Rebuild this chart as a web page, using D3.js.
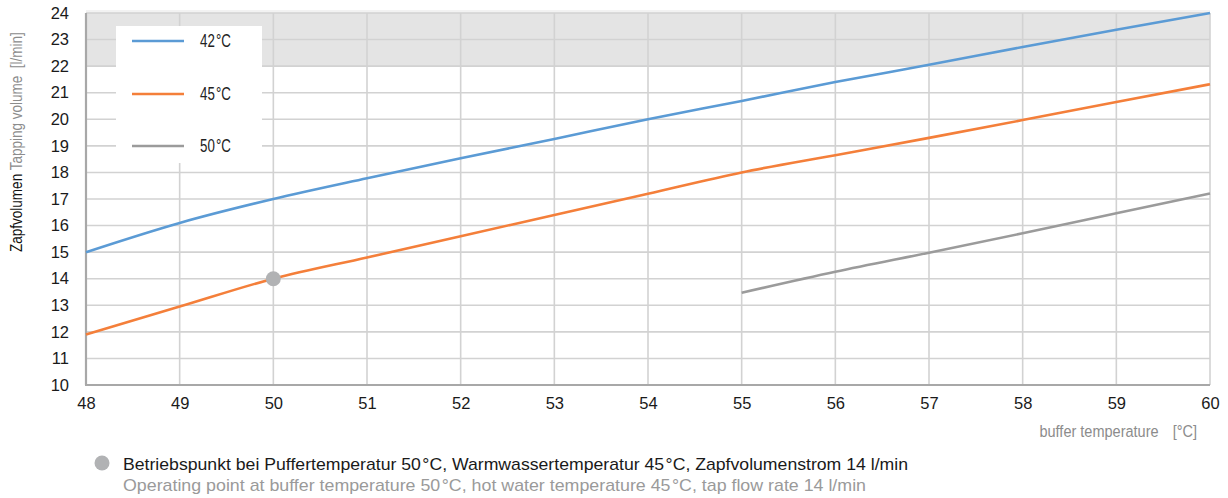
<!DOCTYPE html>
<html>
<head>
<meta charset="utf-8">
<script src="https://cdn.jsdelivr.net/npm/d3@7"></script>
<style>
  html, body { margin: 0; padding: 0; background: #fff; }
  svg { display: block; }
  text { font-family: "Liberation Sans", Arial, Helvetica, sans-serif; }
</style>
</head>
<body>
<svg id="chart" width="1228" height="498"></svg>
<script>
// Buffer temperature in °C (x axis)
const temps = [48, 49, 50, 51, 52, 53, 54, 55, 56, 57, 58, 59, 60];
// Tapping volume in l/min for each hot water temperature
const vol42 = [15.0, 16.1, 17.0, 17.78, 18.53, 19.26, 20.0, 20.69, 21.4, 22.05, 22.72, 23.37, 24.0];
const vol45 = [11.9, 12.95, 14.0, 14.8, 15.6, 16.4, 17.2, 18.0, 18.65, 19.3, 19.97, 20.65, 21.32];
const temps50 = [55, 56, 57, 58, 59, 60];
const vol50 = [13.47, 14.26, 14.98, 15.71, 16.46, 17.21];
const seriesNames = ["42\u200a°C", "45\u200a°C", "50\u200a°C"];
const seriesColors = ["#5b9bd5", "#f47f3a", "#9b9b9b"];
const xTicks = [48, 49, 50, 51, 52, 53, 54, 55, 56, 57, 58, 59, 60];
const yTicks = [10, 11, 12, 13, 14, 15, 16, 17, 18, 19, 20, 21, 22, 23, 24];
const bandRange = [22, 24];
const operatingPoint = [50, 14];

const svg = d3.select("#chart");
const margin = { left: 86, right: 18, top: 13, bottom: 113 };
const W = 1228, H = 498;

const x = d3.scaleLinear().domain([48, 60]).range([margin.left, W - margin.right]);
const y = d3.scaleLinear().domain([10, 24]).range([H - margin.bottom, margin.top]);

// light strip above plot
svg.append("rect")
  .attr("x", x(48)).attr("y", y(24) - 3)
  .attr("width", x(60) - x(48)).attr("height", 3)
  .attr("fill", "#f2f2f2");

// shaded band at the top (22–24 l/min)
svg.append("rect")
  .attr("x", x(48)).attr("y", y(bandRange[1]))
  .attr("width", x(60) - x(48))
  .attr("height", y(bandRange[0]) - y(bandRange[1]))
  .attr("fill", "#e4e4e4");

// grid
const grid = svg.append("g").attr("stroke", "#d2d2d2").attr("stroke-width", 1.6);
grid.selectAll("line.h").data(yTicks).join("line")
  .attr("x1", x(48)).attr("x2", x(60))
  .attr("y1", d => y(d)).attr("y2", d => y(d));
grid.selectAll("line.v").data(xTicks).join("line")
  .attr("x1", d => x(d)).attr("x2", d => x(d))
  .attr("y1", y(24)).attr("y2", y(10));

// axis lines (left and bottom)
svg.append("line").attr("x1", x(48)).attr("x2", x(48)).attr("y1", y(24)).attr("y2", y(10))
  .attr("stroke", "#a8a8a8").attr("stroke-width", 2.2);
svg.append("line").attr("x1", x(48) - 1).attr("x2", x(60)).attr("y1", y(10)).attr("y2", y(10))
  .attr("stroke", "#a8a8a8").attr("stroke-width", 2.2);

// tick labels through d3 axes
const yAxis = svg.append("g").attr("transform", `translate(${x(48)},0)`)
  .call(d3.axisLeft(y).tickValues(yTicks).tickSize(0).tickPadding(17).tickFormat(d3.format("d")));
yAxis.select(".domain").remove();
yAxis.selectAll("text").attr("font-size", 16.5).attr("fill", "#1a1a1a")
  .style("font-family", "'Liberation Sans', Arial, sans-serif");

const xAxis = svg.append("g").attr("transform", `translate(0,${y(10)})`)
  .call(d3.axisBottom(x).tickValues(xTicks).tickSize(0).tickPadding(12).tickFormat(d3.format("d")));
xAxis.select(".domain").remove();
xAxis.selectAll("text").attr("font-size", 16.5).attr("fill", "#1a1a1a")
  .style("font-family", "'Liberation Sans', Arial, sans-serif");

// legend box
const lg = svg.append("g");
lg.append("rect").attr("x", 116).attr("y", 26).attr("width", 146).attr("height", 137).attr("fill", "#fff");
const legendRows = [41, 94, 146];
seriesNames.forEach((name, i) => {
  lg.append("line").attr("x1", 132).attr("x2", 184)
    .attr("y1", legendRows[i]).attr("y2", legendRows[i])
    .attr("stroke", seriesColors[i]).attr("stroke-width", 2.6);
  lg.append("text")
    .attr("transform", `translate(200,${legendRows[i] + 6}) scale(0.74,1)`)
    .attr("font-size", 18).attr("fill", "#222").text(name);
});

// series lines
const line = d3.line().x(d => x(d[0])).y(d => y(d[1])).curve(d3.curveMonotoneX);
const series = [
  d3.zip(temps, vol42),
  d3.zip(temps, vol45),
  d3.zip(temps50, vol50)
];
series.forEach((pts, i) => {
  svg.append("path").datum(pts).attr("d", line)
    .attr("fill", "none").attr("stroke", seriesColors[i]).attr("stroke-width", 2.6);
});

// operating point
svg.append("circle").attr("cx", x(operatingPoint[0])).attr("cy", y(operatingPoint[1]))
  .attr("r", 7.5).attr("fill", "#b1b2b4");

// y axis title
const yt = svg.append("text")
  .attr("transform", `translate(22,252) rotate(-90) scale(0.82,1)`)
  .attr("font-size", 16.5);
yt.append("tspan").attr("fill", "#111").text("Zapfvolumen");
yt.append("tspan").attr("fill", "#8c8c8c").text(" Tapping volume");
yt.append("tspan").attr("fill", "#8c8c8c").attr("dx", 9).text("[l/min]");

// x axis title
const xt = svg.append("text")
  .attr("transform", "translate(1197,437) scale(0.88,1)")
  .attr("text-anchor", "end")
  .attr("font-size", 16.5).attr("fill", "#8c8c8c");
xt.append("tspan").text("buffer temperature");
xt.append("tspan").attr("dx", 16).text("[°C]");

// footnote
svg.append("circle").attr("cx", 102).attr("cy", 463).attr("r", 7.5).attr("fill", "#b1b2b4");
svg.append("text").attr("x", 123).attr("y", 470).attr("font-size", 16.6).attr("fill", "#1a1a1a")
  .attr("textLength", 785).attr("lengthAdjust", "spacingAndGlyphs")
  .text("Betriebspunkt bei Puffertemperatur 50\u200a°C, Warmwassertemperatur 45\u200a°C, Zapfvolumenstrom 14 l/min");
svg.append("text").attr("x", 123).attr("y", 491).attr("font-size", 16.6).attr("fill", "#9a9a9a")
  .attr("textLength", 743).attr("lengthAdjust", "spacingAndGlyphs")
  .text("Operating point at buffer temperature 50\u200a°C, hot water temperature 45\u200a°C, tap flow rate 14 l/min");
</script>
</body>
</html>
